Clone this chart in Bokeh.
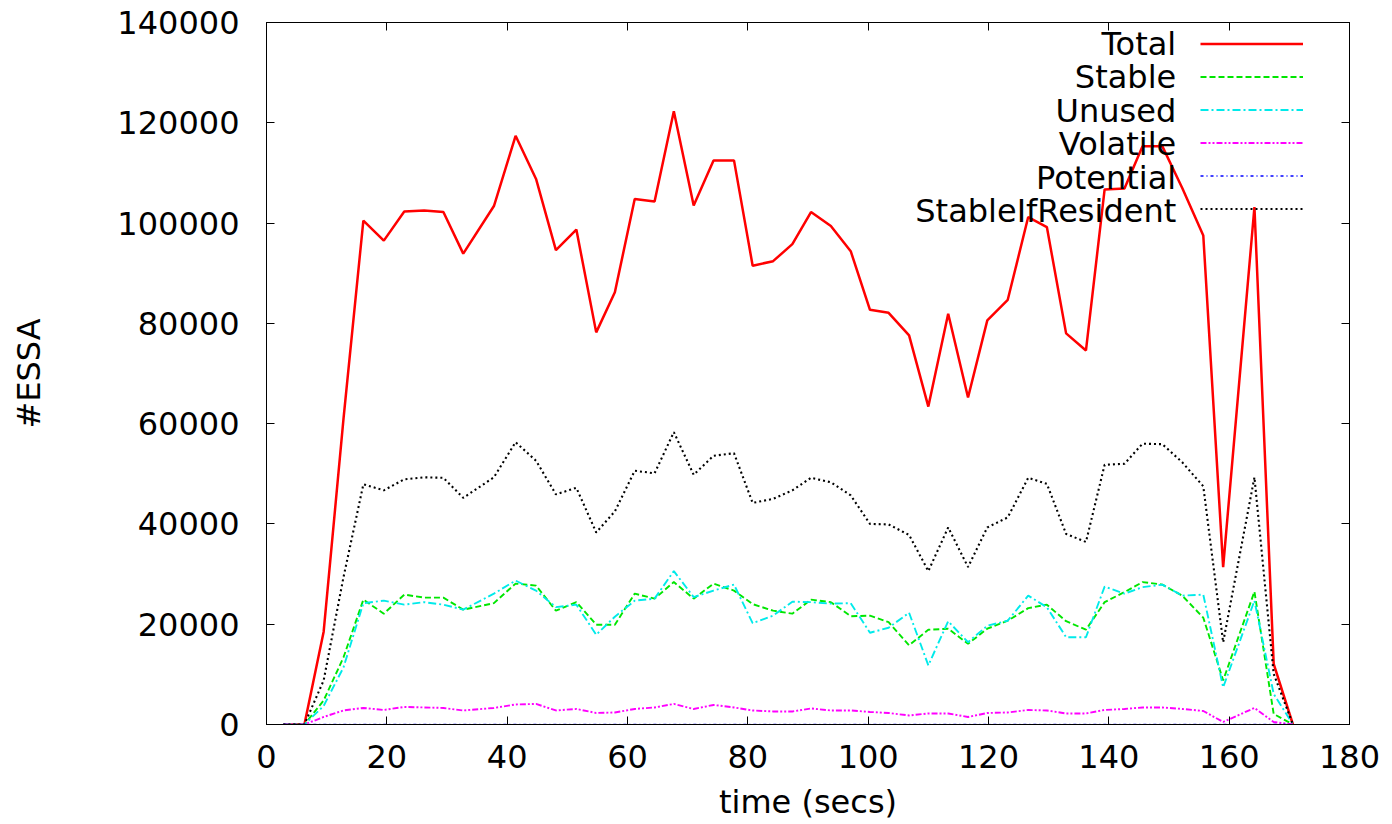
from bokeh.plotting import figure
from bokeh.models import (Range1d, FixedTicker, LinearAxis, Legend, LegendItem,
                          Label, CustomJSTickFormatter, BasicTickFormatter)
from bokeh.core.properties import value
from bokeh.embed import file_html
from bokeh.resources import INLINE

# ---------------- data ----------------
time_s = [2.8, 6.3, 9.5, 12.8, 16.1, 19.5, 22.9, 26.2, 29.4, 32.7,
          37.8, 41.4, 44.8, 48.1, 51.5, 54.8, 57.9, 61.2, 64.5, 67.7,
          71.0, 74.3, 77.7, 80.8, 84.2, 87.4, 90.5, 93.8, 97.1, 100.3,
          103.4, 106.8, 110.0, 113.3, 116.6, 119.8, 123.2, 126.6, 129.7, 132.9,
          136.2, 139.3, 142.6, 145.6, 148.9, 152.2, 155.7, 159.0, 164.2, 167.4,
          170.6]

total = [0, 0, 18500, 61000, 100500, 96500, 102300, 102500, 102200, 93900,
         103400, 117400, 108800, 94600, 98700, 78200, 86200, 104800, 104300, 122300,
         103500, 112500, 112500, 91500, 92400, 95800, 102200, 99400, 94400, 82700,
         82100, 77600, 63400, 81900, 65200, 80600, 84700, 101200, 99200, 78000,
         74600, 106700, 106900, 115300, 115300, 107000, 97500, 31400, 103200, 12100,
         0]

stable = [0, 0, 4800, 13400, 24900, 22100, 25900, 25300, 25300, 22900,
          24200, 28100, 27700, 22700, 24400, 19900, 19900, 26100, 25100, 28400,
          25100, 28100, 26700, 24000, 22700, 22100, 24900, 24400, 21600, 21700,
          20400, 15800, 18900, 19100, 16100, 19100, 20700, 23200, 23900, 20600,
          18900, 24400, 26400, 28400, 27900, 25700, 21300, 8800, 26500, 2100,
          0]

unused = [0, 0, 3700, 11400, 24200, 24700, 23900, 24400, 23900, 22900,
          26100, 28700, 26700, 23400, 23900, 17900, 21500, 24700, 25100, 30600,
          25400, 26700, 27900, 20200, 21700, 24500, 24400, 24100, 24200, 18300,
          19300, 22300, 11800, 20600, 16400, 19700, 20700, 25700, 23400, 17400,
          17400, 27500, 26100, 27400, 27900, 25700, 25900, 7400, 24700, 6100,
          0]

volatile = [0, 0, 1500, 2800, 3300, 2900, 3500, 3400, 3300, 2800,
            3300, 4000, 4100, 2800, 3100, 2300, 2400, 3100, 3400, 4100,
            3100, 3900, 3400, 2800, 2600, 2600, 3200, 2800, 2800, 2500,
            2300, 1800, 2200, 2200, 1500, 2300, 2400, 2900, 2800, 2200,
            2200, 2900, 3100, 3400, 3400, 3100, 2700, 500, 3300, 500,
            0]

potential = [0] * len(time_s)

stable_if_resident = [0, 0, 8800, 29400, 47900, 46700, 48900, 49300, 49200, 45200,
                      49300, 56300, 52600, 45900, 47200, 38300, 42500, 50600, 50100, 58300,
                      49800, 53600, 54100, 44200, 45000, 46700, 49200, 48300, 45700, 40000,
                      39900, 37800, 30600, 39300, 31400, 39300, 41300, 49200, 48000, 38000,
                      36400, 51800, 52000, 56000, 55900, 52300, 47500, 16400, 49300, 10100,
                      0]

series_names = ["Total", "Stable", "Unused", "Volatile", "Potential", "StableIfResident"]
series_values = [total, stable, unused, volatile, potential, stable_if_resident]
series_colors = ["#ff0000", "#00e600", "#00eaea", "#ff00ff", "#0000ff", "#000000"]
series_dash = ["solid", "6 3", "8 3 2 3", "6 2 2 2 2 2", "3 3 1 3", "2 3"]
series_width = [2.5, 1.9, 1.9, 1.9, 1.5, 2.1]

x_ticks = [0, 20, 40, 60, 80, 100, 120, 140, 160, 180]
y_ticks = [0, 20000, 40000, 60000, 80000, 100000, 120000, 140000]

x_label = "time (secs)"
y_label = "#ESSA"

# ---------------- styling constants ----------------
FONT = "DejaVu Sans"
FS = "32px"

p = figure(width=1384, height=824, output_backend="svg", toolbar_location=None,
           x_range=Range1d(0, 180), y_range=Range1d(0, 140000),
           min_border_left=266, min_border_right=35,
           min_border_top=22, min_border_bottom=100,
           background_fill_color="white", border_fill_color="white")
p.xgrid.visible = False
p.ygrid.visible = False
p.outline_line_color = "black"
p.outline_line_width = 1

renderers = []
for name, vals, col, dash, lw in zip(series_names, series_values, series_colors,
                                     series_dash, series_width):
    r = p.line(time_s, vals, line_color=col, line_dash=dash, line_width=lw)
    renderers.append(r)


def style_axis(ax, show_labels=True):
    ax.axis_line_color = "black"
    ax.major_tick_line_color = "black"
    ax.major_tick_in = 8
    ax.major_tick_out = 0
    ax.minor_tick_line_color = None
    ax.major_label_text_font = FONT
    ax.major_label_text_font_size = FS
    ax.major_label_text_color = "black"
    ax.axis_label_text_font = FONT
    ax.axis_label_text_font_size = FS
    ax.axis_label_text_font_style = "normal"
    ax.axis_label_text_color = "black"
    if not show_labels:
        ax.formatter = CustomJSTickFormatter(code="return ''")
        ax.major_label_standoff = 0


xa = p.xaxis[0]
ya = p.yaxis[0]
xa.ticker = FixedTicker(ticks=x_ticks)
ya.ticker = FixedTicker(ticks=y_ticks)
ya.formatter = BasicTickFormatter(use_scientific=False)
style_axis(xa)
style_axis(ya)
xa.axis_label = x_label
ya.axis_label = y_label
xa.major_label_standoff = 20
xa.axis_label_standoff = 12
ya.major_label_standoff = 27
ya.axis_label_standoff = 66

top_ax = LinearAxis(ticker=FixedTicker(ticks=x_ticks))
right_ax = LinearAxis(ticker=FixedTicker(ticks=y_ticks))
style_axis(top_ax, show_labels=False)
style_axis(right_ax, show_labels=False)
p.add_layout(top_ax, "above")
p.add_layout(right_ax, "right")

# ---------------- legend: keys via Legend, texts right-aligned to its left ----------------
legend = Legend(items=[LegendItem(label=value(" "), renderers=[r]) for r in renderers],
                location=(934, 505), orientation="vertical",
                glyph_width=103, glyph_height=21, label_width=0, label_height=21,
                label_standoff=0, spacing=12, padding=0, margin=0,
                label_text_font_size="1px",
                border_line_alpha=0, background_fill_alpha=0)
p.add_layout(legend, "center")

legend_text_x = 151.2
legend_top_y = 135700
legend_step = 6660
for i, name in enumerate(series_names):
    p.add_layout(Label(x=legend_text_x, y=legend_top_y - i * legend_step, text=name,
                       text_align="right", text_baseline="middle",
                       text_font=FONT, text_font_size=FS, text_color="black"))

open("out.html", "w").write(file_html(p, INLINE))
